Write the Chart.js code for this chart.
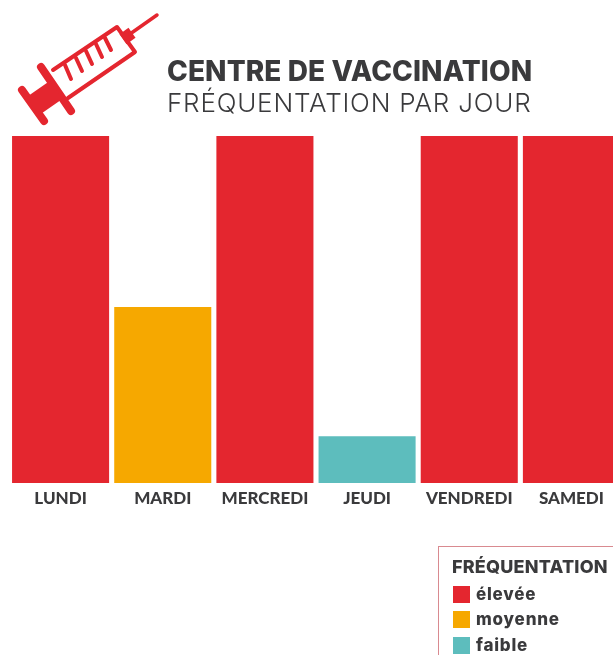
<!DOCTYPE html>
<html lang="fr">
<head>
<meta charset="utf-8">
<title>Centre de vaccination</title>
<script src="https://cdn.jsdelivr.net/npm/chart.js@4"></script>
<style>
	html, body { margin: 0; padding: 0; background: #fff; overflow: hidden; }
	#page { position: relative; width: 613px; height: 655px; overflow: hidden; font-family: Inter, sans-serif; color: #3a3a3c; }
	#myChart { position: absolute; left: 0; top: 0; }
	#icon { position: absolute; left: 0; top: 0; }
	.title { position: absolute; left: 167px; white-space: nowrap; line-height: 1; }
	#title1 { top: 57px; font-size: 28px; font-weight: 800; letter-spacing: 0.1px; }
	#title2 { top: 90px; font-size: 26px; font-weight: 300; letter-spacing: 0.8px; }
	#legend { position: absolute; left: 438px; top: 546px; width: 200px; height: 140px; border: 1.5px solid #d98a90; box-sizing: border-box; }
	#legendTitle { position: absolute; left: 13px; top: 9px; font-size: 18px; font-weight: 800; letter-spacing: 0.2px; white-space: nowrap; }
	.legend-row { position: absolute; left: 14px; height: 17px; line-height: 17px; font-size: 17px; font-weight: 800; letter-spacing: 0.8px; white-space: nowrap; }
	.legend-row i { display: inline-block; width: 17px; height: 17px; margin-right: 6px; vertical-align: top; }
</style>
</head>
<body>
<div id="page">
	<canvas id="myChart" width="640" height="655"></canvas>
	<svg id="icon" width="170" height="130" fill="none" stroke="#e4262f" stroke-linecap="round" stroke-linejoin="round">
		<path d="M53 70 L117 27 L135 52 L68 98" stroke-width="4"/>
		<path d="M65 65 L71 79 M76 58 L82 71 M86 51 L92 64 M96 44 L102 57 M105 38 L111 50" stroke-width="4"/>
		<path d="M22 90 L44 121" stroke-width="8"/>
		<path d="M41 67 L71 111" stroke-width="8"/>
		<path d="M33 106 L56 90" stroke-width="22" stroke-linecap="butt"/>
		<path d="M124 31 L131 41" stroke-width="11" stroke-linecap="butt"/>
		<path d="M130 34 L157 15" stroke-width="3.5"/>
	</svg>
	<div class="title" id="title1">CENTRE DE VACCINATION</div>
	<div class="title" id="title2">FRÉQUENTATION PAR JOUR</div>
	<div id="legend"><div id="legendTitle"></div></div>
</div>
<script>
const categories = ["LUNDI", "MARDI", "MERCREDI", "JEUDI", "VENDREDI", "SAMEDI"];
const values = [100, 50.7, 100, 13.5, 100, 100];
const levels = ["élevée", "moyenne", "élevée", "faible", "élevée", "élevée"];
const legendTitle = "FRÉQUENTATION";
const legendLabels = ["élevée", "moyenne", "faible"];
const legendColors = ["#e4262f", "#f6a800", "#5dbdbd"];

function colorOf(level) {
	return legendColors[legendLabels.indexOf(level)];
}

// Main chart
function mainChart() {
	const data = {
		labels: categories,
		datasets: [
			{
				data: values,
				backgroundColor: levels.map(colorOf),
				borderWidth: 0,
				barPercentage: 0.95,
				categoryPercentage: 1,
			},
		],
	};

	const options = {
		responsive: false,
		maintainAspectRatio: false,
		animation: false,
		layout: {
			padding: { left: 9.5, right: 17.5, top: 136, bottom: 0 },
		},
		plugins: {
			legend: { display: false },
			tooltip: { enabled: false },
		},
		scales: {
			y: { display: false, min: 0, max: 100 },
			x: {
				grid: { display: false },
				border: { display: false },
				afterFit: function (axis) {
					axis.height = 172;
				},
				ticks: {
					autoSkip: false,
					maxRotation: 0,
					padding: -3,
					color: "#3a3a3c",
					font: { family: "Lato", size: 17, weight: "900" },
				},
			},
		},
	};

	new Chart(document.getElementById("myChart"), { type: "bar", data: data, options: options });
}

mainChart();

// Legend
function buildLegend() {
	const box = document.getElementById("legend");
	document.getElementById("legendTitle").textContent = legendTitle;
	legendLabels.forEach(function (label, i) {
		const row = document.createElement("div");
		row.className = "legend-row";
		row.style.top = 38.5 + i * 25.5 + "px";
		const swatch = document.createElement("i");
		swatch.style.background = legendColors[i];
		row.appendChild(swatch);
		row.appendChild(document.createTextNode(label));
		box.appendChild(row);
	});
}

buildLegend();
</script>
</body>
</html>
